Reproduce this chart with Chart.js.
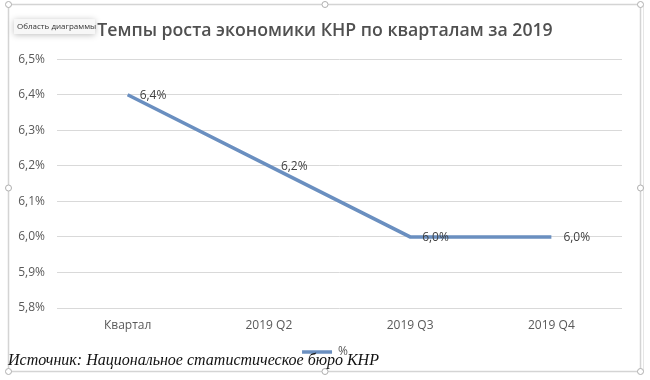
<!DOCTYPE html>
<html>
<head>
<meta charset="utf-8">
<script src="https://cdn.jsdelivr.net/npm/chart.js@4.4.1/dist/chart.umd.min.js"></script>
<style>
  html, body { margin: 0; padding: 0; background: #ffffff; }
  #wrap { position: relative; width: 650px; height: 380px; }
  canvas { display: block; }
</style>
</head>
<body>
<div id="wrap"><canvas id="c" width="650" height="380"></canvas></div>
<script>
const titleText = "Темпы роста экономики КНР по кварталам за 2019";
const sourceText = "Источник: Национальное статистическое бюро КНР";
const tooltipText = "Область диаграммы";
const categories = ["Квартал", "2019 Q2", "2019 Q3", "2019 Q4"];
const seriesName = "%";
const growthValues = [6.4, 6.2, 6.0, 6.0];
const yTicks = [5.8, 5.9, 6.0, 6.1, 6.2, 6.3, 6.4, 6.5];

const fmt = v => v.toFixed(1).replace('.', ',') + '%';
const FONT = "'Open Sans', 'Noto Sans', sans-serif";
const TEXT = '#595959';

const decorPlugin = {
  id: 'decor',
  afterLayout(chart) {
    // centre title and legend on the whole frame, as in the reference
    [chart.titleBlock, chart.legend].forEach(b => {
      if (b) { b.left += 10; b.right += 10; }
    });
  },
  beforeDraw(chart) {
    const ctx = chart.ctx;
    ctx.save();
    ctx.fillStyle = '#ffffff';
    ctx.fillRect(0, 0, chart.width, chart.height);
    ctx.restore();
  },
  afterDatasetsDraw(chart) {
    const ctx = chart.ctx;
    const meta = chart.getDatasetMeta(0);
    ctx.save();
    ctx.font = "12px " + FONT;
    ctx.fillStyle = '#404040';
    ctx.textAlign = 'left';
    ctx.textBaseline = 'middle';
    meta.data.forEach((pt, i) => {
      ctx.fillText(fmt(growthValues[i]), pt.x + 12, pt.y + 1);
    });
    ctx.restore();
  },
  afterDraw(chart) {
    const ctx = chart.ctx;
    ctx.save();
    // selection frame
    ctx.strokeStyle = '#d4d4d4';
    ctx.lineWidth = 1.5;
    ctx.strokeRect(8.5, 4.5, 632, 367);
    ctx.strokeStyle = '#e6e6e6';
    ctx.lineWidth = 1;
    ctx.beginPath();
    ctx.moveTo(643.5, 6); ctx.lineTo(643.5, 372);
    ctx.stroke();
    // handles
    const handles = [[8.5, 4.5], [325, 4.5], [640.5, 4.5], [8.5, 188], [640.5, 188], [8.5, 371.5], [325, 371.5], [640.5, 371.5]];
    handles.forEach(([x, y]) => {
      ctx.fillStyle = '#ffffff';
      ctx.strokeStyle = '#b0b0b0';
      ctx.lineWidth = 1;
      ctx.beginPath();
      ctx.arc(x, y, 3, 0, Math.PI * 2);
      ctx.fill();
      ctx.stroke();
    });
    // tooltip box
    ctx.shadowColor = 'rgba(0,0,0,0.25)';
    ctx.shadowBlur = 6;
    ctx.shadowOffsetY = 1;
    ctx.fillStyle = '#f7f7f7';
    ctx.fillRect(14, 19, 81, 15);
    ctx.shadowColor = 'transparent';
    ctx.font = "8px " + FONT;
    ctx.fillStyle = '#333333';
    ctx.textAlign = 'left';
    ctx.textBaseline = 'middle';
    ctx.fillText(tooltipText, 17, 27);
    // source text
    ctx.font = "italic 16px 'Liberation Serif', 'DejaVu Serif', serif";
    ctx.fillStyle = '#111111';
    ctx.textBaseline = 'alphabetic';
    ctx.fillText(sourceText, 8, 365);
    ctx.restore();
  }
};

new Chart(document.getElementById('c'), {
  type: 'line',
  data: {
    labels: categories,
    datasets: [{
      label: seriesName,
      data: growthValues,
      borderColor: '#6a8fc0',
      backgroundColor: '#6a8fc0',
      borderWidth: 3.5,
      pointRadius: 0,
      pointHoverRadius: 0,
      tension: 0,
      fill: false
    }]
  },
  options: {
    responsive: false,
    animation: false,
    devicePixelRatio: 1,
    layout: { padding: { left: 8, right: 28, top: 0, bottom: 12 } },
    plugins: {
      tooltip: { enabled: false },
      title: {
        display: true,
        text: titleText,
        color: '#505050',
        font: { family: FONT, size: 17.7, weight: '600' },
        padding: { top: 20, bottom: 18 }
      },
      legend: {
        display: true,
        position: 'bottom',
        labels: {
          color: TEXT,
          font: { family: FONT, size: 12 },
          usePointStyle: true,
          pointStyle: 'line',
          pointStyleWidth: 30,
          boxWidth: 30,
          padding: 8
        }
      }
    },
    scales: {
      x: {
        grid: { display: false, drawTicks: false },
        border: { display: false },
        offset: true,
        ticks: { color: TEXT, font: { family: FONT, size: 12 }, padding: 10 },
        afterFit(scale) { scale.height = 30; }
      },
      y: {
        min: 5.8,
        max: 6.5,
        grid: { color: '#d9d9d9', drawTicks: false },
        border: { display: false },
        afterBuildTicks(scale) { scale.ticks = yTicks.map(v => ({ value: v })); },
        ticks: {
          color: TEXT,
          font: { family: FONT, size: 12 },
          padding: 12,
          callback: v => fmt(v)
        },
        afterFit(scale) { scale.width = 49; }
      }
    }
  },
  plugins: [decorPlugin]
});
</script>
</body>
</html>
